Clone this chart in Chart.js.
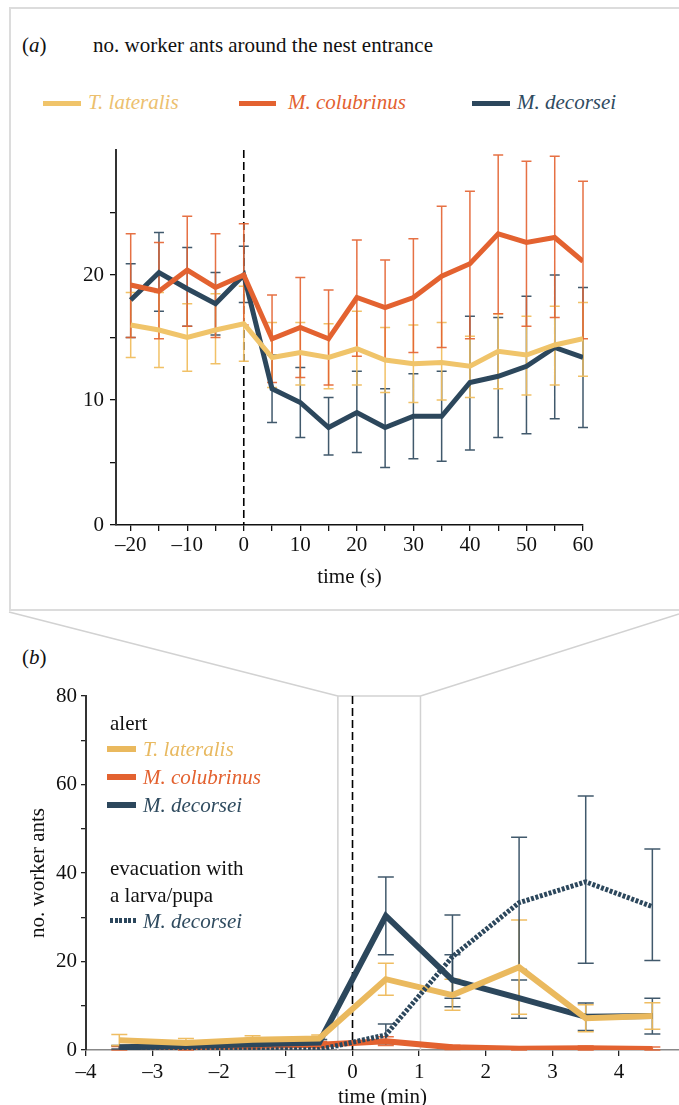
<!DOCTYPE html>
<html><head><meta charset="utf-8">
<script src="https://cdn.jsdelivr.net/npm/chart.js@4.4.1/dist/chart.umd.min.js"></script>
<style>
html,body{margin:0;padding:0;background:#fff;}
body{width:679px;height:1105px;overflow:hidden;position:relative;font-family:'Liberation Serif','Times New Roman',serif;}
.t{position:absolute;font-size:21px;line-height:24px;white-space:nowrap;color:#111;}
.it{font-style:italic;}
.sw{position:absolute;height:5px;}
.wrap{position:absolute;left:0;width:679px;}
</style></head><body>
<div style="position:absolute;left:9px;top:7px;width:720px;height:604px;border:2px solid #dcdcdc;box-sizing:border-box;"></div>

<div class="t" style="left:22px;top:33px;">(<i>a</i>)</div>
<div class="t" style="left:93px;top:33px;">no. worker ants around the nest entrance</div>

<div class="sw" style="left:43px;width:38px;top:101px;background:#F0C46A;"></div>
<div class="t it" style="left:88px;top:90px;color:#ECC06E;">T. lateralis</div>
<div class="sw" style="left:239px;width:37px;top:101px;background:#E36230;"></div>
<div class="t it" style="left:288px;top:90px;color:#E3612F;">M. colubrinus</div>
<div class="sw" style="left:472px;width:38px;top:101px;background:#2C475C;"></div>
<div class="t it" style="left:517px;top:90px;color:#2F4B5F;">M. decorsei</div>

<div class="wrap" style="top:0;height:611px;"><canvas id="ca"></canvas></div>

<div class="t" style="left:22px;top:645px;">(<i>b</i>)</div>
<div class="wrap" style="top:611px;height:510px;"><canvas id="cb"></canvas></div>

<div class="t" style="left:110px;top:711px;">alert</div>
<div class="sw" style="left:107px;width:29px;top:746px;height:6px;background:#EAB95E;"></div>
<div class="t it" style="left:143px;top:737px;color:#E8B960;">T. lateralis</div>
<div class="sw" style="left:107px;width:29px;top:774px;height:6px;background:#E36230;"></div>
<div class="t it" style="left:143px;top:765px;color:#E3612F;">M. colubrinus</div>
<div class="sw" style="left:107px;width:29px;top:802px;height:6px;background:#2C475C;"></div>
<div class="t it" style="left:143px;top:793px;color:#2F4B5F;">M. decorsei</div>
<div class="t" style="left:110px;top:856px;">evacuation with</div>
<div class="t" style="left:110px;top:883px;">a larva/pupa</div>
<div class="sw" style="left:110px;width:27px;top:918px;height:5px;background:repeating-linear-gradient(90deg,#2C475C 0 3px,transparent 3px 4.6px);"></div>
<div class="t it" style="left:143px;top:909px;color:#2F4B5F;">M. decorsei</div>

<script>
// ---------- Panel (a): seconds around the nest entrance ----------
const timeA = [-20,-15,-10,-5,0,5,10,15,20,25,30,35,40,45,50,55,60];
const latA   = [16.0,15.6,15.0,15.6,16.1,13.4,13.8,13.4,14.1,13.2,12.9,13.0,12.7,13.9,13.6,14.4,14.9];
const latALo = [13.4,12.6,12.3,12.9,13.1,11.0,11.2,10.9,11.2,10.6,9.8,10.0,10.2,10.9,10.4,11.2,11.9];
const latAHi = [18.6,18.6,17.7,18.5,19.1,16.2,16.2,16.1,17.1,15.8,16.0,16.2,15.1,16.9,16.7,17.5,17.8];
const colA   = [19.2,18.7,20.4,19.0,20.0,14.9,15.8,14.9,18.2,17.4,18.2,19.9,20.9,23.3,22.6,23.0,21.1];
const colALo = [15.0,14.9,15.9,15.0,16.0,11.4,11.8,11.2,13.5,13.3,13.8,14.2,14.9,16.9,15.9,16.6,14.9];
const colAHi = [23.3,22.6,24.7,23.3,24.1,18.4,19.8,18.8,22.8,21.2,22.9,25.5,26.7,29.6,29.1,29.5,27.5];
const decA   = [18.0,20.2,18.9,17.7,20.0,10.9,9.8,7.8,9.0,7.8,8.7,8.7,11.4,11.9,12.7,14.2,13.4];
const decALo = [15.0,17.1,15.9,15.2,17.8,8.2,7.0,5.6,5.8,4.6,5.3,5.1,6.0,7.0,7.3,8.5,7.8];
const decAHi = [20.9,23.4,22.2,20.2,22.3,13.6,12.6,10.2,12.3,10.9,12.1,12.3,16.7,16.6,18.3,20.0,19.0];

// ---------- Panel (b): minutes ----------
const timeB = [-3.5,-2.5,-1.5,-0.5,0.5,1.5,2.5,3.5,4.5];
const latB   = [2.2,1.6,2.3,2.6,16.0,12.4,18.7,7.2,7.7];
const latBLo = [1.0,0.8,1.4,1.5,12.4,9.0,8.1,4.1,4.7];
const latBHi = [3.5,2.6,3.2,3.4,19.6,16.0,29.4,10.2,10.7];
const colB   = [0.3,0.6,0.9,1.2,2.0,0.6,0.3,0.4,0.2];
const colBLo = [0.0,0.0,0.3,0.5,1.0,0.1,0.0,0.0,0.0];
const colBHi = [0.8,1.3,1.5,1.9,3.0,1.1,0.7,0.9,0.7];
const decB   = [0.6,0.9,1.3,1.7,30.3,15.8,11.7,7.5,7.7];
const decBLo = [0.2,0.4,0.7,1.0,21.5,9.8,7.2,4.4,3.6];
const decBHi = [1.0,1.4,1.9,2.4,39.1,21.5,15.8,10.6,11.7];
const evacB   = [0.0,0.0,0.0,0.1,3.4,21.1,33.3,38.0,32.4];
const evacBLo = [null,null,null,null,1.4,11.7,18.2,19.6,20.2];
const evacBHi = [null,null,null,null,5.9,30.5,48.1,57.4,45.4];

const xTicksA = [-20,-10,0,10,20,30,40,50,60];
const yTicksA = [0,10,20];
const xTicksB = [-4,-3,-2,-1,0,1,2,3,4];
const yTicksB = [0,20,40,60,80];
const zoomWindowB = [-0.22, 1.02]; // minutes shown in panel (a)

const YEL = '#F0C46A', ORA = '#E36230', DRK = '#2C475C';
const FONT = "'Liberation Serif','Times New Roman',serif";
Chart.defaults.font.family = FONT;
Chart.defaults.font.size = 21;
Chart.defaults.color = '#111';

const pts = (xs, ys) => xs.map((x, i) => ({x, y: ys[i]}));
const fmt = v => v < 0 ? '\u2013' + Math.abs(v) : String(v);

const errorBars = {
  id: 'errorBars',
  beforeDatasetsDraw(chart, args, opts) {
    const {ctx, scales: {x, y}} = chart;
    const dsets = chart.data.datasets.slice().sort((a, b) => b.order - a.order);
    dsets.forEach(d => {
      if (!d.errLo) return;
      ctx.save();
      ctx.strokeStyle = d.errColor;
      ctx.lineWidth = opts.width;
      ctx.beginPath();
      d.data.forEach((p, j) => {
        if (d.errLo[j] == null) return;
        const px = x.getPixelForValue(p.x);
        const lo = y.getPixelForValue(d.errLo[j]);
        const hi = y.getPixelForValue(d.errHi[j]);
        const c = opts.cap;
        ctx.moveTo(px, lo); ctx.lineTo(px, hi);
        ctx.moveTo(px - c, lo); ctx.lineTo(px + c, lo);
        ctx.moveTo(px - c, hi); ctx.lineTo(px + c, hi);
      });
      ctx.stroke();
      ctx.restore();
    });
  }
};

const deco = {
  id: 'deco',
  beforeDatasetsDraw(chart, args, opts) {
    const {ctx, chartArea: ca, scales: {x}} = chart;
    ctx.save();
    if (opts.zoom) {
      const l = x.getPixelForValue(opts.zoom[0]);
      const r = x.getPixelForValue(opts.zoom[1]);
      ctx.strokeStyle = '#d2d2d2';
      ctx.lineWidth = 1.5;
      ctx.beginPath();
      ctx.moveTo(9, 1); ctx.lineTo(l, ca.top);
      ctx.moveTo(chart.width, 3); ctx.lineTo(r, ca.top);
      ctx.moveTo(l, ca.bottom); ctx.lineTo(l, ca.top); ctx.lineTo(r, ca.top); ctx.lineTo(r, ca.bottom);
      ctx.stroke();
    }
    const x0 = x.getPixelForValue(0);
    ctx.strokeStyle = '#000';
    ctx.lineWidth = 1.6;
    ctx.setLineDash([8, 4]);
    ctx.beginPath();
    ctx.moveTo(x0, ca.top); ctx.lineTo(x0, ca.bottom);
    ctx.stroke();
    ctx.restore();
  }
};

function lineDs(label, xs, ys, lo, hi, color, errColor, width, order, dash) {
  return {
    label, data: pts(xs, ys), borderColor: color, backgroundColor: color,
    borderWidth: width, pointRadius: 0, tension: 0, order,
    borderDash: dash || [], borderCapStyle: 'butt', borderJoinStyle: 'miter',
    errLo: lo, errHi: hi, errColor
  };
}

new Chart(document.getElementById('ca'), {
  type: 'line',
  data: { datasets: [
    lineDs('T. lateralis', timeA, latA, latALo, latAHi, YEL, 'rgba(240,190,95,0.95)', 5, 1),
    lineDs('M. colubrinus', timeA, colA, colALo, colAHi, ORA, 'rgba(227,98,48,0.9)', 5, 0),
    lineDs('M. decorsei', timeA, decA, decALo, decAHi, DRK, 'rgba(44,71,92,0.9)', 5, 2)
  ]},
  options: {
    responsive: true, maintainAspectRatio: false, animation: false, devicePixelRatio: 1,
    layout: { padding: { left: 0, top: 150, right: 96, bottom: 0 } },
    plugins: { legend: { display: false }, tooltip: { enabled: false },
      errorBars: { cap: 5, width: 1.5 } },
    scales: {
      x: {
        type: 'linear', min: -22.6, max: 60,
        afterFit: s => { s.height = 86; },
        grid: { drawOnChartArea: false, drawTicks: true, tickLength: 6, color: '#111', lineWidth: 1.3 },
        border: { display: true, color: '#111', width: 1.5 },
        ticks: { stepSize: 5, includeBounds: false, autoSkip: false, maxRotation: 0, padding: 2,
          callback: v => xTicksA.includes(v) ? fmt(v) : '' },
        title: { display: true, text: 'time (s)', padding: { top: 0, bottom: 21 } }
      },
      y: {
        min: 0, max: 30,
        afterFit: s => { s.width = 116; },
        afterBuildTicks: s => { s.ticks = s.ticks.filter(t => t.value < 30); },
        grid: { drawOnChartArea: false, drawTicks: true, tickLength: 6, color: '#111', lineWidth: 1.3 },
        border: { display: true, color: '#333', width: 2 },
        ticks: { stepSize: 5, includeBounds: false, autoSkip: false, padding: 6,
          callback: v => yTicksA.includes(v) ? fmt(v) : '' }
      }
    }
  },
  plugins: [deco, errorBars]
});

new Chart(document.getElementById('cb'), {
  type: 'line',
  data: { datasets: [
    lineDs('T. lateralis', timeB, latB, latBLo, latBHi, '#EAB95E', 'rgba(238,185,90,0.95)', 6, 1),
    lineDs('M. colubrinus', timeB, colB, colBLo, colBHi, ORA, 'rgba(227,98,48,0.9)', 6, 3),
    lineDs('M. decorsei', timeB, decB, decBLo, decBHi, DRK, 'rgba(44,71,92,0.9)', 6, 2),
    lineDs('M. decorsei (evacuation)', timeB, evacB, evacBLo, evacBHi, DRK, 'rgba(44,71,92,0.9)', 5, 0, [3, 1.6])
  ]},
  options: {
    responsive: true, maintainAspectRatio: false, animation: false, devicePixelRatio: 1,
    layout: { padding: { left: 0, top: 85, right: 0, bottom: 0 } },
    plugins: { legend: { display: false }, tooltip: { enabled: false },
      deco: { zoom: zoomWindowB },
      errorBars: { cap: 8, width: 1.5 } },
    scales: {
      x: {
        type: 'linear', min: -4, max: 4.9,
        afterFit: s => { s.height = 71; },
        grid: { drawOnChartArea: false, drawTicks: true, tickLength: 6, color: '#222', lineWidth: 1.3 },
        border: { display: true, color: '#888', width: 1.5 },
        ticks: { stepSize: 1, includeBounds: false, autoSkip: false, maxRotation: 0, padding: 4,
          callback: v => xTicksB.includes(v) ? fmt(v) : '' },
        title: { display: true, text: 'time (min)', padding: { top: 0, bottom: 11 } }
      },
      y: {
        min: 0, max: 80,
        afterFit: s => { s.width = 86; },
        grid: { drawOnChartArea: false, drawTicks: true, tickLength: 5, color: '#222', lineWidth: 1.3 },
        border: { display: true, color: '#333', width: 2 },
        ticks: { stepSize: 10, includeBounds: false, autoSkip: false, padding: 4,
          callback: v => yTicksB.includes(v) ? fmt(v) : '' },
        title: { display: true, text: 'no. worker ants', padding: { top: 26, bottom: 0 } }
      }
    }
  },
  plugins: [deco, errorBars]
});
</script>
</body></html>
